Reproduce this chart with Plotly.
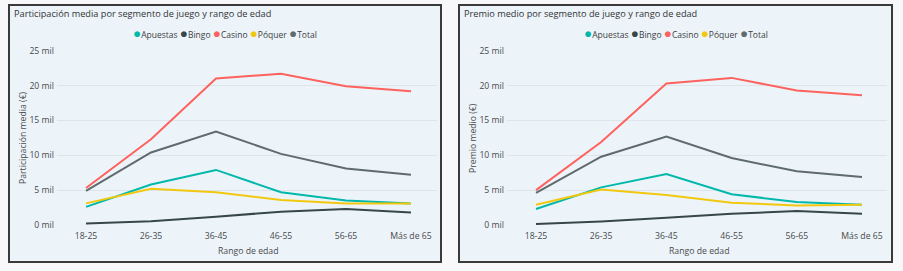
import plotly.graph_objects as go

W, H = 903, 271

categories = ["18-25", "26-35", "36-45", "46-55", "56-65", "Más de 65"]
series_names = ["Apuestas", "Bingo", "Casino", "Póquer", "Total"]
colors = ["#01B8AA", "#374649", "#FD625E", "#F2C80F", "#5F6B6D"]

# Participación media (€)
part_apuestas = [2600, 5800, 7900, 4700, 3500, 3100]
part_bingo = [200, 550, 1200, 1900, 2300, 1800]
part_casino = [5300, 12300, 21000, 21700, 19900, 19200]
part_poquer = [3100, 5200, 4700, 3600, 3100, 3100]
part_total = [4900, 10400, 13400, 10200, 8100, 7200]

# Premio medio (€)
prem_apuestas = [2300, 5400, 7300, 4400, 3300, 2900]
prem_bingo = [150, 500, 1050, 1600, 2000, 1600]
prem_casino = [5000, 11900, 20300, 21100, 19300, 18600]
prem_poquer = [2900, 5100, 4300, 3200, 2800, 2900]
prem_total = [4600, 9800, 12700, 9600, 7700, 6900]

y_tickvals = [0, 5000, 10000, 15000, 20000, 25000]
y_ticktext = ["0 mil", "5 mil", "10 mil", "15 mil", "20 mil", "25 mil"]

titles = ["Participación media por segmento de juego y rango de edad",
          "Premio medio por segmento de juego y rango de edad"]
y_titles = ["Participación media (€)", "Premio medio (€)"]
x_title = "Rango de edad"

FONT = "Open Sans, sans-serif"


def px(p):
    return p / W


def py(p):
    return 1 - p / H


fig = go.Figure()

panels = [
    dict(data=[part_apuestas, part_bingo, part_casino, part_poquer, part_total],
         box=(9, 5, 441, 262), dom=(57, 437), first=86, last=411, xa="x", ya="y"),
    dict(data=[prem_apuestas, prem_bingo, prem_casino, prem_poquer, prem_total],
         box=(459, 5, 892, 262), dom=(507, 887), first=536, last=862, xa="x2", ya="y2"),
]

shapes = []
annotations = []
y_top, y_bot = 50.7, 225  # pixel rows of 25 mil and 0 mil

for k, p in enumerate(panels):
    x0, y0, x1, y1 = p["box"]
    shapes.append(dict(type="rect", xref="paper", yref="paper",
                       x0=px(x0), x1=px(x1), y0=py(y1), y1=py(y0),
                       fillcolor="#ECF4FA", line=dict(color="#3a3a3a", width=2),
                       layer="below"))
    for name, vals, col in zip(series_names, p["data"], colors):
        fig.add_trace(go.Scatter(x=categories, y=vals, mode="lines", name=name,
                                 line=dict(color=col, width=2), showlegend=False,
                                 xaxis=p["xa"], yaxis=p["ya"], cliponaxis=False))
    step = (p["last"] - p["first"]) / (len(categories) - 1)
    r0 = -(p["first"] - p["dom"][0]) / step
    r1 = (len(categories) - 1) + (p["dom"][1] - p["last"]) / step
    sfx = "" if k == 0 else "2"
    fig.update_layout(**{
        "xaxis" + sfx: dict(domain=[px(p["dom"][0]), px(p["dom"][1])],
                            range=[r0, r1], type="category", automargin=False,
                            anchor="y" + sfx, showgrid=False, zeroline=False,
                            showline=False, ticks="", ticklabelstandoff=4,
                            tickfont=dict(size=8.7, color="#4a4a4a", family=FONT)),
        "yaxis" + sfx: dict(domain=[py(y_bot), py(y_top)], range=[0, 25000],
                            anchor="x" + sfx, tickvals=y_tickvals, ticktext=y_ticktext,
                            automargin=False,
                            showgrid=True, gridcolor="rgba(205,212,218,0.5)",
                            gridwidth=1, zeroline=False, showline=False, ticks="",
                            ticklabelstandoff=2,
                            tickfont=dict(size=8.7, color="#4a4a4a", family=FONT)),
    })
    # title
    annotations.append(dict(text=titles[k], xref="paper", yref="paper",
                            x=px(x0 + 3), y=py(13), xanchor="left", yanchor="middle",
                            showarrow=False, font=dict(size=9.2, color="#333333", family=FONT)))
    # legend
    leg = " ".join(f"<span style='color:{c};font-size:13.5px'>●</span>{n}"
                   for n, c in zip(series_names, colors))
    annotations.append(dict(text=leg, xref="paper", yref="paper",
                            x=px((x0 + x1) / 2), y=py(33),
                            xanchor="center", yanchor="middle", showarrow=False,
                            font=dict(size=8.5, color="#404040", family=FONT)))
    # y title
    annotations.append(dict(text=y_titles[k], xref="paper", yref="paper",
                            x=px(x0 + 14), y=py(138), textangle=-90,
                            xanchor="center", yanchor="middle", showarrow=False,
                            font=dict(size=8.7, color="#4a4a4a", family=FONT)))
    # x title
    annotations.append(dict(text=x_title, xref="paper", yref="paper",
                            x=px((p["first"] + p["last"]) / 2), y=py(251),
                            xanchor="center", yanchor="middle", showarrow=False,
                            font=dict(size=8.7, color="#4a4a4a", family=FONT)))

fig.update_layout(width=W, height=H, margin=dict(l=0, r=0, t=0, b=0),
                  paper_bgcolor="#F8F8FA", plot_bgcolor="rgba(0,0,0,0)",
                  shapes=shapes, annotations=annotations, showlegend=False,
                  font=dict(family=FONT))

fig.write_html("out.html")
